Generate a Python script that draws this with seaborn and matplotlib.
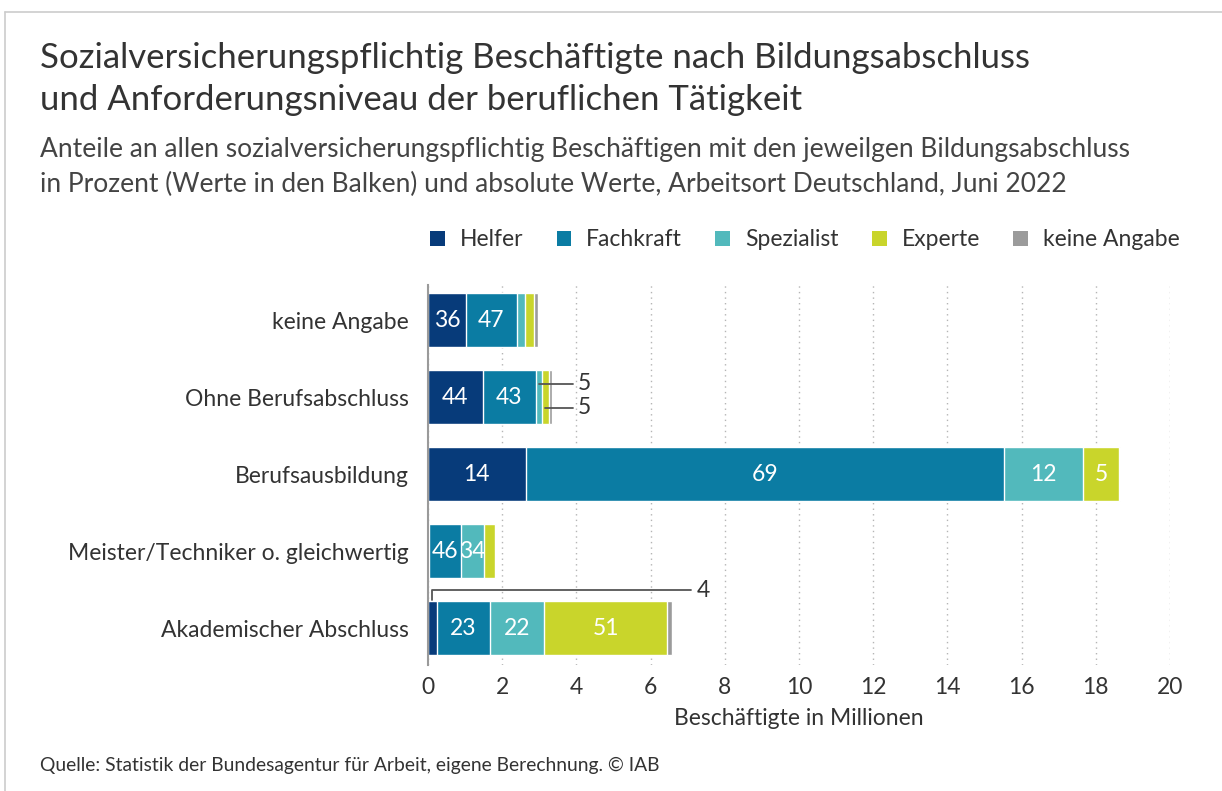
import numpy as np
import pandas as pd
import seaborn as sns
import matplotlib.pyplot as plt
from matplotlib.patches import Patch

# Daten (Beschäftigte in Millionen)
kategorien = ["keine Angabe", "Ohne Berufsabschluss", "Berufsausbildung",
              "Meister/Techniker o. gleichwertig", "Akademischer Abschluss"]
niveaus = ["Helfer", "Fachkraft", "Spezialist", "Experte", "keine Angabe"]
helfer = [1.02, 1.47, 2.63, 0.04, 0.24]
fachkraft = [1.38, 1.44, 12.90, 0.85, 1.43]
spezialist = [0.22, 0.17, 2.13, 0.62, 1.46]
experte = [0.24, 0.17, 0.97, 0.30, 3.32]
keine_angabe = [0.10, 0.08, 0.02, 0.01, 0.13]

# Prozentwerte in den Balken (None = kein Label im Balken)
pct_helfer = [36, 44, 14, None, None]
pct_fachkraft = [47, 43, 69, 46, 23]
pct_spezialist = [None, None, 12, 34, 22]
pct_experte = [None, None, 5, None, 51]

farben = ["#073b7a", "#0b7ca3", "#52b9bc", "#c9d52b", "#9b9b9b"]

sns.set_theme(style="white")
plt.rcParams["font.family"] = ["Lato", "DejaVu Sans"]

werte = np.array([helfer, fachkraft, spezialist, experte, keine_angabe])
kum = werte.cumsum(axis=0)

fig = plt.figure(figsize=(12.22, 7.91), dpi=100)
ax = fig.add_axes([428 / 1222, 1 - 665 / 791, (1170 - 428) / 1222, (665 - 285) / 791])

# gestapelte Balken: kumulierte Summen von hinten nach vorne zeichnen
for i in range(len(niveaus) - 1, -1, -1):
    df = pd.DataFrame({"kat": kategorien, "wert": kum[i]})
    sns.barplot(data=df, y="kat", x="wert", color=farben[i], orient="h",
                width=0.71, saturation=1, ax=ax, order=kategorien)

# Prozentlabels in den Balken
labels = [pct_helfer, pct_fachkraft, pct_spezialist, pct_experte]
for i, lab in enumerate(labels):
    for j, v in enumerate(lab):
        if v is None:
            continue
        start = kum[i - 1][j] if i > 0 else 0
        mitte = start + werte[i][j] / 2
        ax.text(mitte, j, str(v), ha="center", va="center", color="white",
                fontsize=16.5)

# Labels außerhalb mit Hinweislinien
linie = dict(color="#555555", lw=1.3)
j = 1
x_sp = kum[1][j] + werte[2][j] / 2
x_ex = kum[2][j] + werte[3][j] / 2
ax.plot([x_sp, 3.92], [j - 0.17, j - 0.17], **linie)
ax.plot([x_ex, 3.92], [j + 0.14, j + 0.14], **linie)
ax.text(4.05, j - 0.17, "5", va="center", ha="left", fontsize=16.5, color="#333333")
ax.text(4.05, j + 0.14, "5", va="center", ha="left", fontsize=16.5, color="#333333")
j = 4
x_h = werte[0][j] / 2
ax.plot([x_h, x_h, 7.1], [j - 0.36, j - 0.49, j - 0.49], **linie)
ax.text(7.25, j - 0.49, "4", va="center", ha="left", fontsize=16.5, color="#333333")

ax.set_xlim(0, 20)
ax.set_ylim(4.48, -0.455)
ax.set_xticks(range(0, 21, 2))
ax.xaxis.grid(True, linestyle=(0, (1, 3)), color="#b5b5b5", lw=1)
ax.set_axisbelow(True)
for s in ["top", "right", "bottom"]:
    ax.spines[s].set_visible(False)
ax.spines["left"].set_color("#9a9a9a")
ax.spines["left"].set_linewidth(1.5)
ax.tick_params(axis="both", length=0, labelsize=16.5, colors="#333333")
ax.tick_params(axis="y", pad=14)
ax.tick_params(axis="x", pad=9)
ax.set_ylabel("")
ax.set_xlabel("Beschäftigte in Millionen", fontsize=16.5, color="#333333", labelpad=7)

# Legende
handles = [Patch(facecolor=c, edgecolor="none") for c in farben]
fig.legend(handles, niveaus, loc="center left", ncol=5,
           bbox_to_anchor=(430 / 1222, 1 - 240 / 791), frameon=False,
           borderaxespad=0, borderpad=0,
           fontsize=16.5, handlelength=0.65, handleheight=0.65, handletextpad=0.65,
           columnspacing=1.45, labelcolor="#333333")

# Titel, Untertitel, Quelle
fig.text(40 / 1222, 1 - 58 / 791, "Sozialversicherungspflichtig Beschäftigte nach Bildungsabschluss",
         fontsize=25, color="#333333", va="center")
fig.text(40 / 1222, 1 - 100 / 791, "und Anforderungsniveau der beruflichen Tätigkeit",
         fontsize=25, color="#333333", va="center")
fig.text(40 / 1222, 1 - 150 / 791,
         "Anteile an allen sozialversicherungspflichtig Beschäftigen mit den jeweilgen Bildungsabschluss",
         fontsize=19, color="#444444", va="center")
fig.text(40 / 1222, 1 - 184 / 791,
         "in Prozent (Werte in den Balken) und absolute Werte, Arbeitsort Deutschland, Juni 2022",
         fontsize=19, color="#444444", va="center")
fig.text(40 / 1222, 1 - 765 / 791,
         "Quelle: Statistik der Bundesagentur für Arbeit, eigene Berechnung. © IAB",
         fontsize=13.9, color="#333333", va="center")

# dünner Rahmen oben und links
fig.add_artist(plt.Line2D([5 / 1222, 1], [1 - 12 / 791, 1 - 12 / 791], color="#cccccc", lw=1.2))
fig.add_artist(plt.Line2D([5 / 1222, 5 / 1222], [0, 1 - 12 / 791], color="#cccccc", lw=1.2))

fig.savefig("out.png", dpi=100)
